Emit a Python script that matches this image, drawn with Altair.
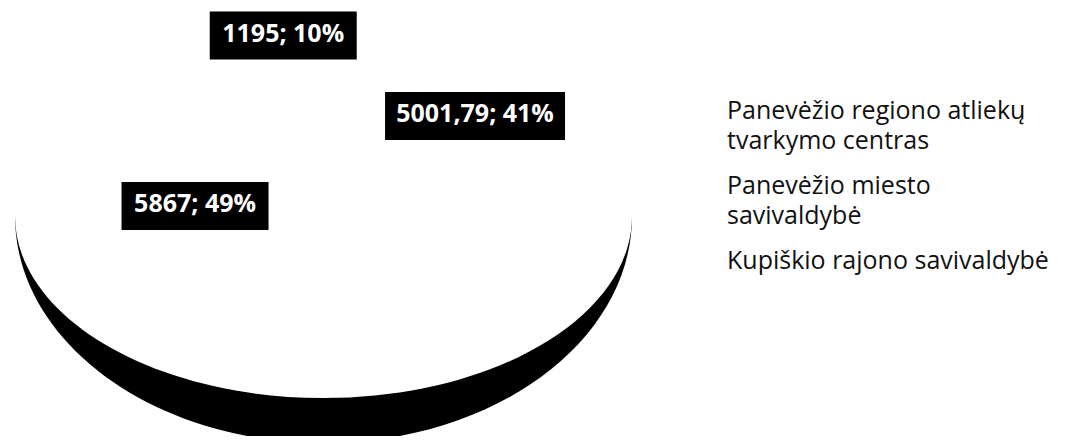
import textwrap
import math
import altair as alt
import pandas as pd

# ---------------- data ----------------
categories = [
    "Panevėžio regiono atliekų tvarkymo centras",
    "Panevėžio miesto savivaldybė",
    "Kupiškio rajono savivaldybė",
]
values = [5001.79, 5867, 1195]

# ---------------- layout (pixels in the view) ----------------
CX, CY = 315.5, 208.0          # centre of the pie's top face
RX, RY = 308.5, 182.0          # half axes of the tilted top face
DEPTH = 45.0                   # thickness of the 3-D pie at the front
LABEL_ANGLE = [41.8, 277.5, 352.5]   # label anchors: degrees clockwise from 12 o'clock
LABEL_R = [0.737, 0.42, 1.0]         # ... and fraction of the radius

total = sum(values)


def fmt(v):
    return f"{v:g}".replace(".", ",")


rows = []
for i, (c, v) in enumerate(zip(categories, values)):
    pct = round(v / total * 100)
    label = f"{fmt(v)}; {pct}%"
    a = math.radians(LABEL_ANGLE[i])
    lx = CX + RX * LABEL_R[i] * math.sin(a)
    ly = CY - RY * LABEL_R[i] * math.cos(a)
    bw = 48 + 11 * len(label)
    rows.append(dict(idx=i, category=c, value=v, label=label, lx=lx, ty=ly - 2,
                     x0=lx - bw / 2, x1=lx + bw / 2, y0=ly - 24, y1=ly + 24))
df = pd.DataFrame(rows)

# ---------------- 3-D pie outline shapes (unit = RX) ----------------
k = 0.5523
a = RY / RX
b = (RY + DEPTH) / RX


def n(x):
    return f"{x:.4f}"


TOP_PATH = (
    f"M -1 0 C -1 {n(-k*a)} {n(-k)} {n(-a)} 0 {n(-a)} "
    f"C {n(k)} {n(-a)} 1 {n(-k*a)} 1 0 "
    f"C 1 {n(k*a)} {n(k)} {n(a)} 0 {n(a)} "
    f"C {n(-k)} {n(a)} -1 {n(k*a)} -1 0 Z"
)
BODY_PATH = (
    f"M -1 0 "
    f"C -1 {n(k*b)} {n(-k)} {n(b)} 0 {n(b)} "
    f"C {n(k)} {n(b)} 1 {n(k*b)} 1 0 Z"
)
SIZE = (2 * RX) ** 2

one = pd.DataFrame({"part": ["pie"]})

side = alt.Chart(one).mark_point(
    shape=BODY_PATH, size=SIZE, filled=True, fill="black", strokeWidth=0, opacity=1
).encode(x=alt.value(CX), y=alt.value(CY))

top = alt.Chart(one).mark_point(
    shape=TOP_PATH, size=SIZE, filled=True, fill="white", strokeWidth=0, opacity=1
).encode(x=alt.value(CX), y=alt.value(CY))

# legend label wrapping
wrapped = {c: textwrap.wrap(c, 27) for c in categories}
expr = "datum.label"
for c, lines in wrapped.items():
    if len(lines) > 1:
        arr = "[" + ",".join(f"'{l}'" for l in lines) + "]"
        expr = f"datum.label === '{c}' ? {arr} : ({expr})"

pie = alt.Chart(df).mark_arc(outerRadius=RY - 4, stroke="white").encode(
    theta=alt.Theta("value:Q", stack=True),
    order=alt.Order("idx:Q"),
    color=alt.Color(
        "category:N",
        sort=categories,
        scale=alt.Scale(domain=categories, range=["white"] * 3),
        legend=alt.Legend(
            orient="none", legendX=690, legendY=78, title=None,
            labelFont="Open Sans", labelFontSize=25,
            labelLimit=600, labelColor="#111111", labelBaseline="top",
            labelExpr=expr, symbolOpacity=0, symbolSize=10, symbolStrokeWidth=0,
            labelOffset=4, rowPadding=7, padding=0,
        ),
    ),
    x=alt.value(CX), y=alt.value(CY),
)

boxes = alt.Chart(df).mark_rect(color="black").encode(
    x=alt.X("x0:Q", scale=None, axis=None), x2="x1:Q",
    y=alt.Y("y0:Q", scale=None, axis=None), y2="y1:Q",
)

texts = alt.Chart(df).mark_text(
    font="Open Sans", fontWeight="bold", fontSize=25, color="white",
    align="center", baseline="middle",
).encode(
    x=alt.X("lx:Q", scale=None, axis=None),
    y=alt.Y("ty:Q", scale=None, axis=None),
    text="label:N",
)

chart = alt.layer(side, top, pie, boxes, texts).properties(
    width=1053, height=428, padding=0, autosize="none", background="white"
).configure(
    style={"guide-label": {"lineHeight": 30}},
    view=alt.ViewConfig(stroke=None),
)

chart.save("out.html", embed_options={"renderer": "svg", "actions": False})
